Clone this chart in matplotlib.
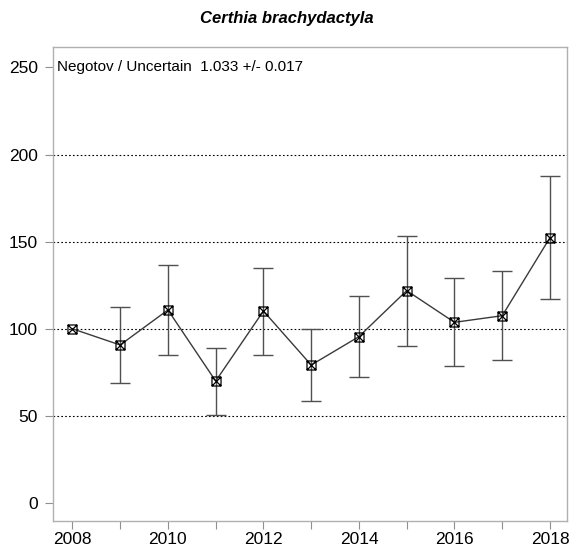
import numpy as np
import matplotlib.pyplot as plt
from matplotlib.path import Path

plt.rcParams['font.family'] = ['Liberation Sans', 'DejaVu Sans']

years = np.arange(2008, 2019)
index = [100, 90.7, 110.8, 70.0, 110.2, 79.2, 95.5, 121.9, 103.7, 107.5, 152.3]
upper = [100, 112.7, 136.6, 89.2, 135.1, 99.9, 119.0, 153.3, 129.3, 133.2, 187.9]
lower = [100, 68.7, 85.1, 50.5, 85.0, 58.7, 72.3, 90.1, 78.4, 81.9, 116.9]
grid_vals = [50, 100, 150, 200]
species = "Certhia brachydactyla"
trend_text = "Negotov / Uncertain  1.033 +/- 0.017"

index = np.array(index)
err = [index - np.array(lower), np.array(upper) - index]

# square with a cross inside (like R pch 7)
sq_x = Path([(-1, -1), (1, -1), (1, 1), (-1, 1), (-1, -1),
             (-1, -1), (1, 1), (-1, 1), (1, -1)],
            [Path.MOVETO, Path.LINETO, Path.LINETO, Path.LINETO, Path.CLOSEPOLY,
             Path.MOVETO, Path.LINETO, Path.MOVETO, Path.LINETO])

fig = plt.figure(figsize=(5.7, 5.49), dpi=100)
ax = fig.add_axes([0.0935, 0.051, 0.9007, 0.8628])

for g in grid_vals:
    ax.axhline(g, color='black', linestyle=(0, (1.5, 2)), linewidth=0.8, zorder=1)

# error bars (first year is the reference, no bar)
mask = np.array(upper) != np.array(lower)
ax.errorbar(years[mask], index[mask], yerr=[e[mask] for e in err], fmt='none',
            ecolor='#505050', elinewidth=1.0, capsize=7, capthick=1.0, zorder=2)
ax.plot(years, index, color='#3a3a3a', linewidth=1.0, zorder=3)
ax.plot(years, index, linestyle='none', marker=sq_x, markersize=6.5,
        markerfacecolor='none', markeredgecolor='black', markeredgewidth=0.9, zorder=4)

ax.set_xlim(2007.6, 2018.35)
ax.set_ylim(-10.3, 261.5)
ax.set_yticks([0, 50, 100, 150, 200, 250])
ax.set_xticks(years)
ax.set_xticklabels([str(y) if y % 2 == 0 else '' for y in years])

for s in ax.spines.values():
    s.set_color('#b0b0b0')
    s.set_linewidth(1.0)
ax.tick_params(axis='both', colors='#909090', labelcolor='black', labelsize=12.5,
               length=6, width=0.8, direction='out')
ax.tick_params(axis='x', pad=2)
ax.tick_params(axis='y', pad=5)

ax.text(0.008, 250, trend_text, fontsize=11, va='center', ha='left',
        transform=ax.get_yaxis_transform())
fig.text(0.503, 0.967, species, fontsize=12, fontweight='bold', fontstyle='italic',
         ha='center', va='center')

fig.savefig('out.png', dpi=100)
